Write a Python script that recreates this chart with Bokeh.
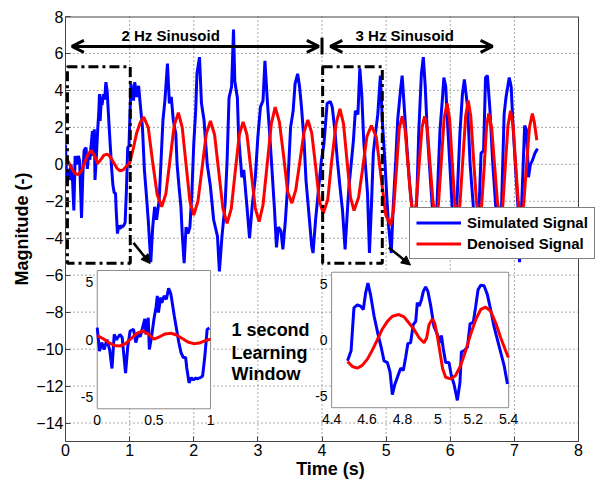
from bokeh.plotting import figure
from bokeh.models import (Range1d, FixedTicker, Legend, LegendItem, Arrow,
                          OpenHead, NormalHead)
from bokeh.core.properties import value
from bokeh.embed import file_html
from bokeh.resources import INLINE

FONT = "Liberation Sans"

# ---------------- data ----------------
x_ticks = [0, 1, 2, 3, 4, 5, 6, 7, 8]
y_ticks = [-14, -12, -10, -8, -6, -4, -2, 0, 2, 4, 6, 8]
x_lim = [0, 8]
y_lim = [-15, 8]

blue_t = [0.00, 0.02, 0.04, 0.06, 0.086, 0.11, 0.13, 0.15, 0.17, 0.20, 0.22, 0.23, 0.25, 0.27, 0.29,
          0.32, 0.34, 0.36, 0.38, 0.40, 0.42, 0.43, 0.45, 0.46, 0.48, 0.50, 0.52, 0.53, 0.54, 0.56,
          0.57, 0.59, 0.61, 0.63, 0.65, 0.68, 0.70, 0.72, 0.74, 0.76, 0.78, 0.79, 0.81, 0.83, 0.85,
          0.87, 0.88, 0.91, 0.93, 0.95, 0.97, 0.99,
          1.02, 1.06, 1.08, 1.11, 1.14, 1.17, 1.20, 1.23, 1.26, 1.29, 1.33, 1.36, 1.39, 1.42, 1.46,
          1.49, 1.52, 1.55, 1.59, 1.62, 1.65, 1.68, 1.72, 1.74, 1.77, 1.80, 1.82, 1.85, 1.88, 1.91,
          1.94, 1.97, 2.00, 2.03, 2.05, 2.09, 2.12, 2.16, 2.21, 2.26, 2.31, 2.37, 2.40, 2.44, 2.49,
          2.52, 2.55, 2.59, 2.62, 2.64, 2.68, 2.70, 2.75, 2.78, 2.83, 2.87, 2.91, 2.96, 3.00, 3.04,
          3.08, 3.11, 3.15, 3.18, 3.22, 3.26, 3.29, 3.32, 3.36, 3.39, 3.43, 3.47, 3.51, 3.55, 3.58,
          3.62, 3.65, 3.68, 3.72, 3.75, 3.80, 3.84, 3.86, 3.90, 3.95, 3.99, 4.03, 4.08, 4.13, 4.16,
          4.20, 4.24, 4.28, 4.32, 4.36, 4.39, 4.42, 4.46, 4.49, 4.52, 4.56, 4.59, 4.62, 4.65, 4.68,
          4.71, 4.74, 4.77, 4.80, 4.84, 4.87, 4.91, 4.94, 4.98, 5.01, 5.04, 5.08, 5.11, 5.15, 5.18,
          5.23, 5.25, 5.29, 5.33, 5.37, 5.41, 5.44, 5.48, 5.51, 5.55, 5.58, 5.61, 5.64, 5.68, 5.72,
          5.76, 5.80, 5.84, 5.88, 5.90, 5.93, 5.95, 5.99, 6.03, 6.07, 6.11, 6.15, 6.19, 6.22, 6.27,
          6.31, 6.36, 6.40, 6.45, 6.48, 6.52, 6.55, 6.58, 6.62, 6.66, 6.71, 6.75, 6.80, 6.84, 6.87,
          6.92, 6.95, 6.98, 7.02, 7.06, 7.08, 7.12, 7.16, 7.19, 7.22, 7.25, 7.28, 7.32, 7.36]
blue_v = [1.05, -1.0, -0.25, -0.85, 0.0, -0.9, -2.5, 0.45, 0.0, 0.45, 0.2, -0.85, -2.9, -0.55, 0.75,
          0.9, -0.25, 0.45, 0.25, 1.05, 1.8, 0.45, 1.9, -0.85, 0.3, 1.75, 2.9, 3.8, 2.35, 3.65,
          3.2, 3.8, 3.5, 4.45, 3.95, 2.05, 0.9, -0.25, -1.15, -1.55, -1.55, -2.45, -3.75, -3.3, -3.5,
          -3.3, -3.4, -3.3, -3.15, -1.4, 0.9, 1.0,
          4.35, 3.45, 4.45, 3.65, 4.25, 3.1, 2.0, -0.3, -1.6, -3.0, -5.3, -3.4, -2.3, -3.0, -1.95,
          0.2, 2.4, 3.45, 5.45, 3.3, 3.65, 2.4, 1.65, 0.0, -1.2, -2.3, -3.75, -5.35, -3.4, -3.75,
          -3.4, -1.6, 1.1, 2.9, 4.9, 5.8, 3.3, 2.4, 0.0, -1.2, -3.0, -3.9, -5.8, -3.9, -2.1,
          0.2, 3.6, 4.2, 7.3, 4.5, 3.6, 1.5, -0.7, -0.3, -2.3, -4.0, -2.3, -0.7, 1.5, 3.1,
          3.45, 5.6, 3.3, 1.85, -0.3, -2.5, -4.5, -3.4, -3.6, -4.6, -3.0, -0.85, 2.0, 2.9, 4.35,
          4.9, 4.2, 3.1, 1.3, -0.85, -2.85, -4.45, -4.8, -3.0, -1.2, 0.2, 1.1, 3.3, 3.4, 3.1,
          1.85, 0.2, -1.2, -2.5, -4.6, -2.85, -1.2, 0.2, 1.3, 2.9, 2.7, 5.2, 3.8, 1.3, -0.15,
          -1.6, -4.8, -2.3, 0.6, 1.85, 2.7, 4.8, 2.4, 0.2, -1.75, -3.4, -4.8, -2.3, 0.2, 2.4,
          4.2, 4.8, 2.7, 0.6, -1.2, -2.5, -4.8, -1.6, 1.85, 4.9, 5.8, 4.2, 1.85, -0.3, -2.3,
          -4.8, -1.6, 1.85, 3.65, 4.7, 4.2, 2.7, 0.2, -2.3, -4.8, -1.6, 1.65, 3.8, 4.6, 3.1,
          0.0, -2.3, -4.8, -2.3, 0.6, 0.75, 4.7, 4.8, 2.9, 0.2, -2.3, -4.8, -2.3, 2.7, 3.65,
          4.7, 4.2, 2.0, -0.3, -2.5, -5.3, -1.6, 2.1, 1.85, -0.7, 0.0, 0.2, 0.6, 0.85]

red_t = [0.00, 0.05, 0.10, 0.15, 0.20, 0.25, 0.30, 0.35, 0.40, 0.45, 0.50, 0.55, 0.60, 0.65, 0.70,
         0.75, 0.80, 0.85, 0.90, 0.95, 1.00,
         1.06, 1.11, 1.17, 1.22, 1.29, 1.36, 1.43, 1.50, 1.565, 1.63, 1.695, 1.76, 1.82, 1.88,
         1.94, 2.00, 2.065, 2.13, 2.195, 2.26, 2.325, 2.39, 2.455, 2.52, 2.585, 2.645, 2.71, 2.77,
         2.83, 2.895, 2.96, 3.02, 3.08, 3.145, 3.21, 3.27, 3.335, 3.40, 3.465, 3.53, 3.59, 3.655,
         3.72, 3.78, 3.84, 3.90, 3.96, 4.02, 4.09, 4.15, 4.22, 4.28, 4.335, 4.39, 4.445, 4.50,
         4.57, 4.635, 4.70, 4.77, 4.845, 4.92, 4.995, 5.07, 5.115, 5.16, 5.205, 5.25, 5.295, 5.34,
         5.385, 5.43, 5.47, 5.515, 5.56, 5.60, 5.64, 5.685, 5.73, 5.77, 5.815, 5.86, 5.905, 5.95,
         5.99, 6.03, 6.07, 6.11, 6.15, 6.195, 6.24, 6.28, 6.32, 6.365, 6.41, 6.45, 6.49, 6.53,
         6.565, 6.60, 6.645, 6.69, 6.735, 6.78, 6.82, 6.86, 6.90, 6.94, 6.98, 7.02, 7.06, 7.10,
         7.145, 7.19, 7.235, 7.28, 7.31, 7.35]
red_v = [0.35, 0.1, -0.25, -0.5, -0.55, -0.35, 0.1, 0.55, 0.75, 0.5, 0.05, 0.25, 0.5, 0.55, 0.4,
         0.1, -0.2, -0.35, -0.3, -0.1, 0.05,
         0.9, 1.7, 2.3, 2.55, 2.0, 0.1, -1.65, -2.3, -1.6, 0.25, 2.1, 2.8, 2.0, 0.0,
         -2.0, -2.75, -2.0, -0.2, 1.65, 2.35, 1.6, -0.4, -2.4, -3.2, -2.4, -0.45, 1.6, 2.3,
         1.6, -0.4, -2.4, -3.1, -2.2, 0.0, 2.2, 3.1, 2.3, 0.5, -1.5, -2.1, -1.4, 0.15,
         1.75, 2.4, 1.7, -0.1, -2.0, -2.65, -1.9, 0.15, 2.2, 3.0, 2.2, 0.2, -1.8, -2.5,
         -1.8, -0.2, 1.5, 2.1, 1.5, -0.65, -2.75, -3.3, -2.5, -0.3, 1.95, 2.6, 1.9, 0.0,
         -1.9, -3.0, -2.1, 0.0, 2.0, 2.6, 2.0, 0.0, -2.0, -3.0, -2.2, 0.15, 2.5, 3.3,
         2.45, 0.15, -2.1, -3.0, -2.2, 0.2, 2.6, 3.45, 2.6, 0.2, -2.1, -3.0, -2.2, -0.1,
         2.0, 2.75, 2.0, 0.0, -2.0, -3.0, -2.2, 0.0, 2.1, 2.9, 2.1, 0.0, -2.0, -3.0,
         -2.2, 0.0, 2.0, 2.75, 2.3, 1.3]

# inset 1 shows the first second of the same signals
ins1_blue_t = [t for t in blue_t if t <= 1.0]
ins1_blue_v = blue_v[:len(ins1_blue_t)]
ins1_red_t = [t for t in red_t if t <= 1.0]
ins1_red_v = red_v[:len(ins1_red_t)]
ins1_xticks = [0, 0.5, 1]
ins1_xlabels = ["0", "0.5", "1"]
ins_yticks = [5, 0, -5]
ins_ylabels = ["5", "0", "-5"]

# inset 2 (zoom of the 3 Hz part)
ins2_blue_t = [4.49, 4.51, 4.526, 4.545, 4.564, 4.579, 4.592, 4.605, 4.62, 4.64, 4.662, 4.68,
               4.696, 4.715, 4.73, 4.743, 4.756, 4.775, 4.79, 4.805, 4.818, 4.831, 4.846, 4.861,
               4.875, 4.884, 4.895, 4.907, 4.918, 4.931, 4.944, 4.96, 4.978, 4.997, 5.012, 5.02,
               5.031, 5.044, 5.063, 5.076, 5.091, 5.11, 5.125, 5.133, 5.148, 5.167, 5.182, 5.2,
               5.214, 5.227, 5.242, 5.261, 5.28, 5.298, 5.317, 5.336, 5.355, 5.374, 5.393]
ins2_blue_v = [-1.85, -0.95, 2.85, 3.1, 3.0, 2.7, 4.15, 5.05, 4.0, 2.1, 0.5, -0.65,
               -1.85, -2.0, -2.85, -4.85, -4.0, -3.15, -2.5, -2.7, -1.55, -0.3, -0.25, 1.35,
               1.65, 3.3, 3.0, 3.55, 4.3, 4.7, 4.3, 3.0, 1.2, 0.5, -0.25, 0.4,
               -0.8, -2.0, -2.0, -3.15, -3.9, -5.35, -3.75, -1.05, -0.95, -0.65, 1.45, 1.55,
               3.0, 4.45, 4.85, 4.8, 4.0, 2.7, 1.2, 0.05, -1.1, -2.25, -3.9]
ins2_red_t = [4.49, 4.517, 4.545, 4.573, 4.602, 4.63, 4.658, 4.686, 4.715, 4.743, 4.78, 4.809,
              4.837, 4.865, 4.894, 4.922, 4.937, 4.95, 4.969, 4.982, 4.997, 5.012, 5.027, 5.044,
              5.072, 5.1, 5.129, 5.157, 5.185, 5.214, 5.242, 5.27, 5.298, 5.327, 5.355, 5.383, 5.398]
ins2_red_v = [-1.9, -2.35, -2.5, -2.25, -1.7, -0.9, 0.0, 0.95, 1.65, 2.1, 2.25, 2.05,
              1.5, 0.95, 0.2, -0.25, 0.2, 1.35, 1.85, 1.5, 0.35, -1.1, -2.55, -3.3,
              -3.45, -3.15, -2.25, -0.95, 0.5, 1.8, 2.7, 2.9, 2.55, 1.5, 0.2, -0.95, -1.55]
ins2_xticks = [4.4, 4.6, 4.8, 5.0, 5.2, 5.4]
ins2_xlabels = ["4.4", "4.6", "4.8", "5", "5.2", "5.4"]

region_labels = ["2 Hz Sinusoid", "3 Hz Sinusoid"]
note_lines = ["1 second", "Learning", "Window"]
legend_labels = ["Simulated Signal", "Denoised Signal"]

BLUE = "#0000FF"
RED = "#FF0000"
FRAME = "#444444"

# ---------------- figure ----------------
# the frame runs to the page edge so that the legend may overhang the axes box;
# the axes box itself ends at x = 8 and is drawn below.
p = figure(width=595, height=483, x_range=Range1d(0, 8.265), y_range=Range1d(*y_lim),
           output_backend="svg", toolbar_location=None,
           min_border_left=65, min_border_right=0, min_border_top=16, min_border_bottom=42)
p.outline_line_color = None
p.xgrid.visible = False
p.ygrid.visible = False

for ax in (p.xaxis[0], p.yaxis[0]):
    ax.major_label_text_font = FONT
    ax.major_label_text_font_size = "16px"
    ax.major_label_text_color = "black"
    ax.axis_label_text_font = FONT
    ax.axis_label_text_font_size = "18px"
    ax.axis_label_text_font_style = "bold"
    ax.axis_label_text_color = "black"
    ax.major_tick_in = 5
    ax.major_tick_out = 0
    ax.minor_tick_line_color = None
    ax.axis_line_color = FRAME
    ax.major_tick_line_color = FRAME
    ax.major_label_standoff = 2
p.xaxis.ticker = FixedTicker(ticks=x_ticks)
p.yaxis.ticker = FixedTicker(ticks=y_ticks)
p.xaxis.bounds = tuple(x_lim)
p.xaxis.axis_label = "Time (s)"
p.yaxis.axis_label = "Magnitude (-)"
p.xaxis.axis_label_standoff = 0
p.yaxis.axis_label_standoff = 1

# dotted grid, limited to the axes box
gx = x_ticks[1:-1]
gy = y_ticks[:-1]
p.segment(x0=gx, y0=[y_lim[0]] * len(gx), x1=gx, y1=[y_lim[1]] * len(gx),
          line_color="#555555", line_dash="1 3", line_width=1)
p.segment(x0=[x_lim[0]] * len(gy), y0=gy, x1=[x_lim[1]] * len(gy), y1=gy,
          line_color="#555555", line_dash="1 3", line_width=1)
# top and right edges of the axes box
p.segment(x0=[x_lim[0]], y0=[y_lim[1]], x1=[x_lim[1]], y1=[y_lim[1]],
          line_color=FRAME, line_width=2)
p.segment(x0=[x_lim[1]], y0=[y_lim[0]], x1=[x_lim[1]], y1=[y_lim[1]],
          line_color=FRAME, line_width=1)

r_blue = p.line(blue_t, blue_v, line_color=BLUE, line_width=3)
r_red = p.line(red_t, red_v, line_color=RED, line_width=3)

# dash-dot learning window boxes
p.quad(left=[0.03, 4.01], right=[1.01, 4.94], top=[5.28, 5.28], bottom=[-5.35, -5.35],
       fill_alpha=0, line_color="black", line_width=3, line_dash="10 4 3 4")

# double arrows and labels
for xs, xe in ((0.1, 3.95), (4.13, 6.66)):
    p.add_layout(Arrow(start=OpenHead(size=12, line_width=3, line_color="black"),
                       end=OpenHead(size=12, line_width=3, line_color="black"),
                       x_start=xs, y_start=6.38, x_end=xe, y_end=6.38,
                       line_width=3, line_color="black"))
p.segment(x0=[4.0], y0=[5.95], x1=[4.0], y1=[6.85], line_color="black", line_width=3)
p.text(x=[1.64, 5.29], y=[6.97, 6.97], text=region_labels, text_align="center",
       text_baseline="middle", text_font=value(FONT), text_font_size="15px",
       text_font_style="bold", text_color="black")

# arrows to insets
for xs, ys, xe, ye in ((1.06, -4.25, 1.32, -5.37), (5.04, -4.5, 5.38, -5.45)):
    p.add_layout(Arrow(end=NormalHead(size=9, fill_color="black", line_color="black"),
                       x_start=xs, y_start=ys, x_end=xe, y_end=ye,
                       line_width=2.5, line_color="black"))

p.text(x=[2.59, 2.59, 2.59], y=[-8.97, -10.2, -11.35], text=note_lines, text_align="left",
       text_baseline="middle", text_font=value(FONT), text_font_size="18px",
       text_font_style="bold", text_color="black")

# ---------------- insets ----------------
def inset(xs, xe, tx0, tx1, ty0, ty1, bt, bv, rt, rv, xticks, xlabels):
    sub = p.subplot(x_source=Range1d(xs, xe), y_source=Range1d(-6, 6),
                    x_target=Range1d(tx0, tx1), y_target=Range1d(ty0, ty1))
    sub.quad(left=[xs], right=[xe], top=[6], bottom=[-6], fill_color="white",
             line_color="#8c8c8c", line_width=1)
    sub.line(bt, bv, line_color=BLUE, line_width=3)
    sub.line(rt, rv, line_color=RED, line_width=3)
    sub.text(x=xticks, y=[-6] * len(xticks), text=xlabels, text_align="center",
             text_baseline="top", y_offset=6, text_font=value(FONT),
             text_font_size="14px", text_color="black")
    sub.text(x=[xs] * len(ins_yticks), y=ins_yticks, text=ins_ylabels, text_align="right",
             text_baseline="middle", x_offset=-4, text_font=value(FONT),
             text_font_size="14px", text_color="black")
    return sub

inset(0, 1, 0.495, 2.262, -13.23, -5.746, ins1_blue_t, ins1_blue_v, ins1_red_t, ins1_red_v,
      ins1_xticks, ins1_xlabels)
inset(4.4, 5.4, 4.15, 6.911, -13.17, -5.84, ins2_blue_t, ins2_blue_v, ins2_red_t, ins2_red_v,
      ins2_xticks, ins2_xlabels)

# ---------------- legend ----------------
legend = Legend(items=[LegendItem(label=legend_labels[0], renderers=[r_blue]),
                       LegendItem(label=legend_labels[1], renderers=[r_red])],
                location=(344, 182))
legend.label_text_font = FONT
legend.label_text_font_size = "15px"
legend.label_text_font_style = "bold"
legend.label_text_color = "black"
legend.glyph_width = 45
legend.glyph_height = 17
legend.label_height = 17
legend.label_standoff = 6
legend.padding = 6
legend.spacing = 4
legend.margin = 0
legend.border_line_color = "black"
legend.border_line_width = 1
legend.background_fill_alpha = 1
p.add_layout(legend)

open("out.html", "w").write(file_html(p, INLINE))
